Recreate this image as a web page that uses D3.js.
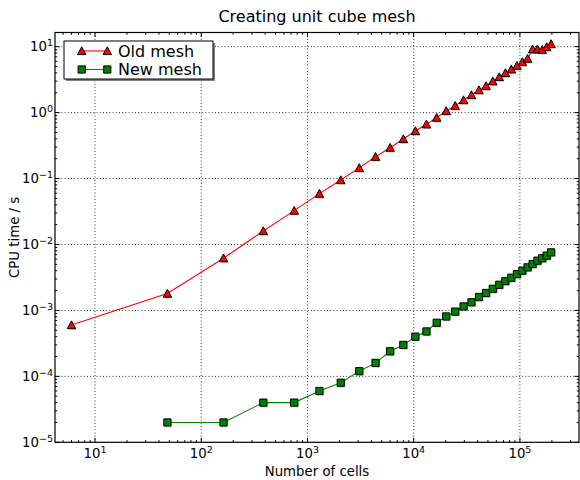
<!DOCTYPE html>
<html>
<head>
<meta charset="utf-8">
<script src="https://cdn.jsdelivr.net/npm/d3@7"></script>
<style>
  html, body { margin: 0; padding: 0; background: #fff; }
  svg { display: block; font-family: "DejaVu Sans", sans-serif; }
</style>
</head>
<body>
<svg id="chart" width="580" height="480"></svg>
<script>
// ---- data ----
const title = "Creating unit cube mesh";
const xLabel = "Number of cells";
const yLabel = "CPU time / s";
const seriesNames = ["Old mesh", "New mesh"];
const oldCells = [6, 48, 162, 384, 750, 1296, 2058, 3072, 4374, 6000, 7986, 10368, 13182, 16464, 20250, 24576, 29478, 34992, 41154, 48000, 55566, 63888, 73002, 82944, 93750, 105456, 118098, 131712, 146334, 162000, 178746, 196608];
const oldMesh = [6.0e-4, 1.8e-3, 6.2e-3, 0.016, 0.0326, 0.059, 0.095, 0.145, 0.214, 0.294, 0.398, 0.526, 0.665, 0.838, 1.06, 1.27, 1.55, 1.85, 2.20, 2.53, 2.99, 3.47, 3.99, 4.54, 5.15, 5.86, 6.58, 9.15, 9.15, 9.0, 9.9, 11.0];
const newCells = [48, 162, 384, 750, 1296, 2058, 3072, 4374, 6000, 7986, 10368, 13182, 16464, 20250, 24576, 29478, 34992, 41154, 48000, 55566, 63888, 73002, 82944, 93750, 105456, 118098, 131712, 146334, 162000, 178746, 196608];
const newMesh = [2.0e-5, 2.0e-5, 4.0e-5, 4.0e-5, 6.0e-5, 8.0e-5, 1.2e-4, 1.6e-4, 2.4e-4, 3.0e-4, 4.0e-4, 4.8e-4, 6.5e-4, 8.1e-4, 9.6e-4, 1.15e-3, 1.33e-3, 1.6e-3, 1.84e-3, 2.13e-3, 2.45e-3, 2.79e-3, 3.13e-3, 3.56e-3, 4.0e-3, 4.5e-3, 5.06e-3, 5.68e-3, 6.18e-3, 6.77e-3, 7.6e-3];
const xTickExps = [1, 2, 3, 4, 5];
const yTickExps = [-5, -4, -3, -2, -1, 0, 1];
const xDomain = [4.2, 3.6e5];
const yDomain = [1e-5, 16.4];

// ---- layout ----
const L = 55, R = 579, T = 32.5, B = 442.3;
const svg = d3.select("#chart");
const x = d3.scaleLog().domain(xDomain).range([L, R]);
const y = d3.scaleLog().domain(yDomain).range([B, T]);

svg.append("rect").attr("width", 580).attr("height", 480).attr("fill", "#fff");

// grid
const grid = svg.append("g").attr("stroke", "#000").attr("stroke-width", 0.8).attr("stroke-dasharray", "1,2.2");
xTickExps.forEach(e => {
  const v = Math.pow(10, e);
  grid.append("line").attr("x1", x(v)).attr("x2", x(v)).attr("y1", T).attr("y2", B);
});
yTickExps.forEach(e => {
  const v = Math.pow(10, e);
  if (y(v) > T + 1 && y(v) < B - 1)
    grid.append("line").attr("y1", y(v)).attr("y2", y(v)).attr("x1", L).attr("x2", R);
});

// minor/major ticks (inward, all four sides)
function minorVals(domain) {
  const out = [];
  const lo = Math.floor(Math.log10(domain[0])), hi = Math.ceil(Math.log10(domain[1]));
  for (let k = lo; k <= hi; k++) for (let m = 2; m <= 9; m++) {
    const v = m * Math.pow(10, k);
    if (v >= domain[0] && v <= domain[1]) out.push(v);
  }
  return out;
}
const ticks = svg.append("g").attr("stroke", "#000").attr("stroke-width", 1);
const xMaj = xTickExps.map(e => Math.pow(10, e));
const yMaj = yTickExps.map(e => Math.pow(10, e));
xMaj.forEach(v => {
  ticks.append("line").attr("x1", x(v)).attr("x2", x(v)).attr("y1", B).attr("y2", B - 4.5);
  ticks.append("line").attr("x1", x(v)).attr("x2", x(v)).attr("y1", T).attr("y2", T + 4.5);
});
minorVals(xDomain).forEach(v => {
  ticks.append("line").attr("x1", x(v)).attr("x2", x(v)).attr("y1", B).attr("y2", B - 2.2);
  ticks.append("line").attr("x1", x(v)).attr("x2", x(v)).attr("y1", T).attr("y2", T + 2.2);
});
yMaj.forEach(v => {
  ticks.append("line").attr("y1", y(v)).attr("y2", y(v)).attr("x1", L).attr("x2", L + 4.5);
  ticks.append("line").attr("y1", y(v)).attr("y2", y(v)).attr("x1", R).attr("x2", R - 4.5);
});
minorVals(yDomain).forEach(v => {
  ticks.append("line").attr("y1", y(v)).attr("y2", y(v)).attr("x1", L).attr("x2", L + 2.2);
  ticks.append("line").attr("y1", y(v)).attr("y2", y(v)).attr("x1", R).attr("x2", R - 2.2);
});

// frame
svg.append("rect").attr("x", L).attr("y", T).attr("width", R - L).attr("height", B - T)
  .attr("fill", "none").attr("stroke", "#000").attr("stroke-width", 1.2);

// tick labels
function expLabel(g, e, anchor) {
  const t = g.append("text").attr("text-anchor", anchor).attr("font-size", 13.3).attr("fill", "#000");
  t.append("tspan").text("10");
  t.append("tspan").attr("font-size", 9.5).attr("dy", -5.5).text(String(e).replace("-", "\u2212"));
  return t;
}
xTickExps.forEach(e => {
  const g = svg.append("g").attr("transform", `translate(${x(Math.pow(10, e))},458)`);
  expLabel(g, e, "middle");
});
yTickExps.forEach(e => {
  const g = svg.append("g").attr("transform", `translate(53,${y(Math.pow(10, e)) + 4.8})`);
  expLabel(g, e, "end");
});

// titles
svg.append("text").attr("x", (L + R) / 2).attr("y", 22).attr("text-anchor", "middle")
  .attr("font-size", 16).text(title);
svg.append("text").attr("x", (L + R) / 2).attr("y", 476).attr("text-anchor", "middle")
  .attr("font-size", 13.3).text(xLabel);
svg.append("text").attr("transform", `translate(18.5,${(T + B) / 2}) rotate(-90)`)
  .attr("text-anchor", "middle").attr("font-size", 13.3).text(yLabel);

// markers
const triPath = "M0,-4.2L4.2,3.6L-4.2,3.6Z";
const sqPath = "M-3.6,-3.6H3.6V3.6H-3.6Z";

function drawSeries(xs, ys, color, path) {
  const pts = xs.map((c, i) => [x(c), y(ys[i])]);
  svg.append("path").attr("d", d3.line()(pts)).attr("fill", "none")
    .attr("stroke", color).attr("stroke-width", 1.1);
  const g = svg.append("g");
  pts.forEach(p => {
    g.append("path").attr("d", path).attr("transform", `translate(${p[0] + 1.2},${p[1] + 1.2})`)
      .attr("fill", "#888").attr("opacity", 0.45);
  });
  pts.forEach(p => {
    g.append("path").attr("d", path).attr("transform", `translate(${p[0]},${p[1]})`)
      .attr("fill", color).attr("stroke", "#000").attr("stroke-width", 1);
  });
}
drawSeries(oldCells, oldMesh, "#ff0000", triPath);
drawSeries(newCells, newMesh, "#008000", sqPath);

// legend
const lg = svg.append("g");
lg.append("rect").attr("x", 66).attr("y", 43).attr("width", 149).attr("height", 38).attr("fill", "#808080");
lg.append("rect").attr("x", 64).attr("y", 41).attr("width", 149).attr("height", 38)
  .attr("fill", "#fff").attr("stroke", "#000").attr("stroke-width", 1);
const legendItems = [
  { name: seriesNames[0], color: "#ff0000", path: triPath, yy: 51 },
  { name: seriesNames[1], color: "#008000", path: sqPath, yy: 69.5 }
];
legendItems.forEach(it => {
  lg.append("line").attr("x1", 81.7).attr("x2", 107.3).attr("y1", it.yy).attr("y2", it.yy)
    .attr("stroke", it.color).attr("stroke-width", 1.1);
  [81.7, 107.3].forEach(px => {
    lg.append("path").attr("d", it.path).attr("transform", `translate(${px},${it.yy})`)
      .attr("fill", it.color).attr("stroke", "#000").attr("stroke-width", 1);
  });
  lg.append("text").attr("x", 118).attr("y", it.yy + 5.8).attr("font-size", 16).text(it.name);
});
</script>
</body>
</html>
